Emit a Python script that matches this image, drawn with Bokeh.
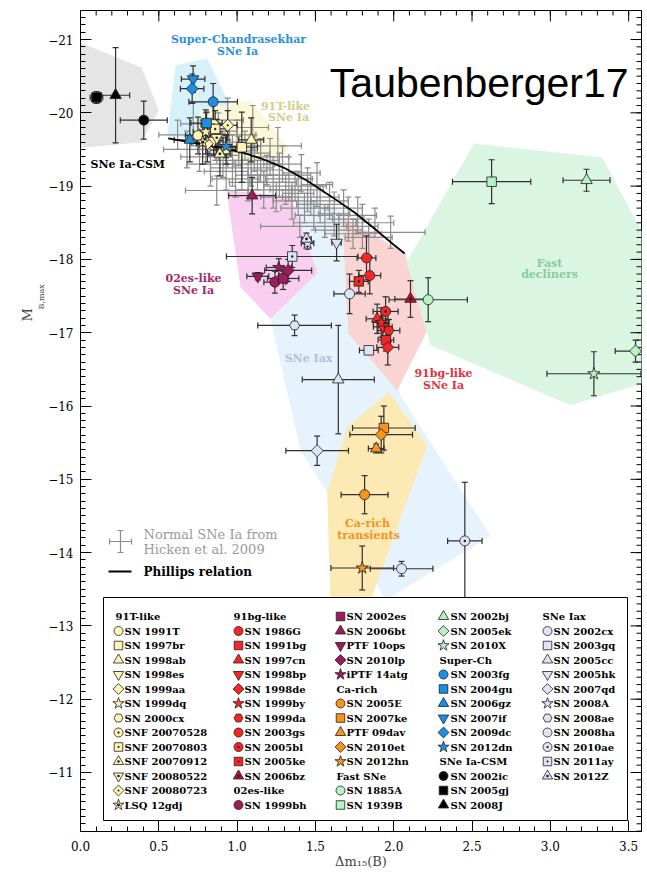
import numpy as np
from bokeh.plotting import figure
from bokeh.models import (Range1d, ColumnDataSource, Whisker, TeeHead, Label, FixedTicker, Title)
from bokeh.core.properties import value, field
from bokeh.embed import file_html
from bokeh.resources import INLINE

# ---------------- data ----------------
# Normal SNe Ia from Hicken et al. 2009
normal_dm15 = [0.62, 0.68, 0.72, 0.76, 0.80, 0.83, 0.86, 0.88, 0.91, 0.93,
               0.95, 0.97, 0.99, 1.01, 1.03, 1.05, 1.07, 1.09, 1.11, 1.13,
               1.15, 1.17, 1.19, 1.21, 1.23, 1.25, 1.27, 1.29, 1.31, 1.33,
               1.35, 1.37, 1.39, 1.41, 1.43, 1.45, 1.47, 1.49, 1.51, 1.53,
               1.56, 1.59, 1.62, 1.65, 1.68, 1.71, 1.74, 1.77, 1.80, 1.84,
               1.88, 1.98, 0.87, 1.40, 1.10, 1.26, 1.00, 0.94]
normal_mb = [-19.70, -19.50, -19.85, -19.40, -19.65, -19.30, -19.55, -19.75, -19.42, -19.20,
             -19.60, -19.35, -19.10, -19.48, -19.25, -19.55, -19.05, -19.30, -19.45, -19.15,
             -19.35, -18.95, -19.22, -19.40, -19.05, -18.85, -19.15, -19.30, -18.95, -19.10,
             -18.80, -19.00, -18.90, -19.18, -18.70, -18.95, -18.85, -18.60, -19.02, -18.75,
             -18.50, -18.80, -18.62, -18.40, -18.70, -18.55, -18.35, -18.60, -18.45, -18.30,
             -18.50, -18.37, -18.94, -18.45, -19.80, -19.55, -19.70, -19.90]
normal_xerr = [0.12, 0.15, 0.08, 0.12, 0.10, 0.15, 0.10, 0.12, 0.10, 0.14,
               0.18, 0.10, 0.15, 0.12, 0.20, 0.10, 0.12, 0.15, 0.10, 0.14,
               0.12, 0.18, 0.10, 0.12, 0.15, 0.10, 0.20, 0.12, 0.10, 0.15,
               0.12, 0.20, 0.10, 0.12, 0.15, 0.10, 0.18, 0.12, 0.10, 0.15,
               0.20, 0.12, 0.10, 0.15, 0.12, 0.10, 0.18, 0.12, 0.10, 0.15,
               0.12, 0.22, 0.20, 0.25, 0.10, 0.15, 0.12, 0.10]
normal_yerr = [0.20, 0.25, 0.30, 0.20, 0.35, 0.30, 0.20, 0.25, 0.30, 0.25,
               0.20, 0.35, 0.25, 0.20, 0.30, 0.20, 0.25, 0.30, 0.25, 0.20,
               0.30, 0.25, 0.20, 0.25, 0.35, 0.20, 0.30, 0.25, 0.20, 0.30,
               0.25, 0.20, 0.30, 0.25, 0.20, 0.30, 0.25, 0.20, 0.30, 0.25,
               0.20, 0.25, 0.30, 0.20, 0.25, 0.30, 0.20, 0.25, 0.30, 0.25,
               0.20, 0.22, 0.20, 0.15, 0.30, 0.25, 0.20, 0.30]

# Phillips relation
phillips_dm15 = [0.56, 0.75, 0.90, 1.03, 1.15, 1.30, 1.45, 1.60, 1.75, 1.90, 2.00, 2.07]
phillips_mb = [-19.65, -19.58, -19.52, -19.46, -19.38, -19.25, -19.07, -18.86, -18.64, -18.38, -18.20, -18.08]

# 91T-like
t91_names = ["SN 1991T", "SN 1997br", "SN 1998ab", "SN 1998es", "SN 1999aa", "SN 1999dq",
             "SN 2000cx", "SNF 20070528", "SNF 20070803", "SNF 20070912", "SNF 20080522",
             "SNF 20080723", "LSQ 12gdj"]
t91_dm15 = [0.75, 1.03, 1.09, 0.85, 0.81, 0.80, 0.93, 0.85, 0.86, 0.89, 0.87, 0.94, 0.78]
t91_mb = [-19.69, -19.53, -19.63, -19.62, -19.58, -19.74, -19.50, -19.84, -19.78, -19.44, -19.66, -19.83, -19.60]
t91_xerr = [0.08, 0.10, 0.08, 0.06, 0.07, 0.08, 0.06, 0.08, 0.07, 0.07, 0.06, 0.06, 0.07]
t91_yerr = [0.25, 0.48, 0.30, 0.20, 0.25, 0.30, 0.20, 0.35, 0.25, 0.30, 0.25, 0.20, 0.30]

# 91bg-like
bg_names = ["SN 1986G", "SN 1991bg", "SN 1997cn", "SN 1998bp", "SN 1998de", "SN 1999by",
            "SN 1999da", "SN 2003gs", "SN 2005bl", "SN 2005ke", "SN 2006bz"]
bg_dm15 = [1.826, 1.950, 1.894, 1.930, 1.962, 1.920, 1.969, 1.847, 1.948, 1.777, 2.107]
bg_mb = [-18.02, -16.90, -17.19, -17.08, -16.80, -17.14, -17.03, -17.78, -17.29, -17.70, -17.46]
bg_xerr = [0.06, 0.05, 0.07, 0.06, 0.07, 0.05, 0.07, 0.07, 0.08, 0.06, 0.10]
bg_yerr = [0.30, 0.15, 0.20, 0.15, 0.24, 0.20, 0.15, 0.25, 0.20, 0.15, 0.25]

# 02es-like
es_names = ["SN 1999bh", "SN 2002es", "SN 2006bt", "PTF 10ops", "SN 2010lp", "iPTF 14atg"]
es_dm15 = [1.241, 1.294, 1.096, 1.132, 1.326, 1.266]
es_mb = [-17.69, -17.74, -18.87, -17.77, -17.85, -17.89]
es_xerr = [0.07, 0.10, 0.15, 0.07, 0.15, 0.08]
es_yerr = [0.15, 0.15, 0.25, 0.05, 0.15, 0.12]

# Ca-rich transients
ca_names = ["SN 2005E", "SN 2007ke", "PTF 09dav", "SN 2010et", "SN 2012hn"]
ca_dm15 = [1.814, 1.937, 1.888, 1.920, 1.799]
ca_mb = [-14.79, -15.70, -15.42, -15.61, -13.79]
ca_xerr = [0.15, 0.20, 0.05, 0.20, 0.20]
ca_yerr = [0.26, 0.30, 0.06, 0.25, 0.30]

# Fast decliners
fast_names = ["SN 1885A", "SN 1939B", "SN 2002bj", "SN 2005ek", "SN 2010X"]
fast_dm15 = [2.22, 2.625, 3.231, 3.544, 3.278]
fast_mb = [-17.45, -19.06, -19.08, -16.75, -16.44]
fast_xerr = [0.25, 0.25, 0.15, 0.13, 0.30]
fast_yerr = [0.30, 0.30, 0.15, 0.15, 0.30]

# Super-Chandrasekhar
sch_names = ["SN 2003fg", "SN 2004gu", "SN 2006gz", "SN 2007if", "SN 2009dc", "SN 2012dn"]
sch_dm15 = [0.847, 0.805, 0.698, 0.719, 0.713, 0.930]
sch_mb = [-20.15, -19.86, -19.63, -20.46, -20.33, -19.54]
sch_xerr = [0.155, 0.10, 0.10, 0.075, 0.075, 0.07]
sch_yerr = [0.25, 0.15, 0.30, 0.18, 0.20, 0.15]

# SNe Ia-CSM
csm_names = ["SN 2002ic", "SN 2005gj", "SN 2008J"]
csm_dm15 = [0.404, 0.102, 0.224]
csm_mb = [-19.90, -20.21, -20.24]
csm_xerr = [0.15, 0.04, 0.09]
csm_yerr = [0.26, 0.08, 0.65]

# SNe Iax
iax_names = ["SN 2002cx", "SN 2003gq", "SN 2005cc", "SN 2005hk", "SN 2007qd", "SN 2008A",
             "SN 2008ae", "SN 2008ha", "SN 2010ae", "SN 2011ay", "SN 2012Z"]
iax_dm15 = [1.718, 1.841, 1.646, 1.635, 1.511, 1.450, 1.367, 2.050, 2.454, 1.352, 1.443]
iax_mb = [-17.53, -16.76, -16.36, -18.23, -15.39, -18.22, -17.10, -13.78, -14.16, -18.04, -18.28]
iax_xerr = [0.10, 0.06, 0.23, 0.03, 0.20, 0.04, 0.235, 0.20, 0.11, 0.42, 0.03]
iax_yerr = [0.27, 0.05, 0.74, 0.25, 0.20, 0.08, 0.14, 0.10, 0.80, 0.15, 0.08]

# shaded class regions (dm15, M_B vertices)
csm_reg_x = [-0.05, 0.39, 0.50, 0.39, -0.05]
csm_reg_y = [-21.00, -20.62, -20.03, -19.60, -19.51]
sch_reg_x = [0.607, 0.809, 1.064, 0.554]
sch_reg_y = [-20.65, -20.74, -19.62, -19.67]
t91_reg_x = [0.766, 1.086, 1.34, 1.086, 0.734]
t91_reg_y = [-20.03, -20.17, -19.49, -19.28, -19.55]
iax_reg_x = [1.379, 1.692, 2.043, 2.618, 1.948, 1.577, 1.405, 1.213]
iax_reg_y = [-18.87, -18.64, -16.14, -14.23, -13.35, -14.81, -15.39, -17.19]
es_reg_x = [0.932, 1.341, 1.513, 1.213, 1.022]
es_reg_y = [-18.94, -18.87, -17.81, -17.19, -17.62]
bg_reg_x = [1.671, 2.075, 2.214, 2.022, 1.711]
bg_reg_y = [-18.58, -18.08, -17.03, -16.21, -16.99]
fast_reg_x = [2.512, 3.331, 3.65, 3.65, 3.129, 2.235, 2.082]
fast_reg_y = [-19.58, -19.39, -18.12, -16.35, -16.01, -16.83, -17.96]
ca_reg_x = [1.969, 2.214, 1.852, 1.596, 1.575, 1.703]
ca_reg_y = [-16.19, -15.46, -13.35, -13.35, -14.81, -15.71]

x_ticks = [0.0, 0.5, 1.0, 1.5, 2.0, 2.5, 3.0, 3.5]
x_tick_labels = ["0.0", "0.5", "1.0", "1.5", "2.0", "2.5", "3.0", "3.5"]
y_ticks = [-21, -20, -19, -18, -17, -16, -15, -14, -13, -12, -11]
y_tick_labels = ["\u221221", "\u221220", "\u221219", "\u221218", "\u221217", "\u221216",
                 "\u221215", "\u221214", "\u221213", "\u221212", "\u221211"]
x_minor = [round(0.1 * i, 1) for i in range(0, 36)]
y_minor = [round(-21.3 + 0.1 * i, 1) for i in range(0, 112)]

# ---------------- styles ----------------
t91_markers = ["circle", "square", "triangle", "inverted_triangle", "diamond", "star", "hex",
               "circle_dot", "square_dot", "triangle_dot", "inverted_triangle_dot", "diamond_dot", "star_dot"]
bg_markers = ["circle", "square", "triangle", "inverted_triangle", "diamond", "star", "hex",
              "circle", "circle_dot", "square_dot", "triangle_dot"]
es_markers = ["circle", "square", "triangle", "inverted_triangle", "diamond", "star"]
ca_markers = ["circle", "square", "triangle", "diamond", "star"]
fast_markers = ["circle", "square", "triangle", "diamond", "star"]
sch_markers = ["circle", "square", "triangle", "inverted_triangle", "diamond", "star"]
csm_markers = ["circle", "square", "triangle"]
iax_markers = ["circle", "square", "triangle", "inverted_triangle", "diamond", "star", "hex",
               "circle", "circle_dot", "square_dot", "triangle_dot"]
fill_override = {"SN 2006bz": "#b8102c"}

groups = [
    ("91T-like", t91_names, t91_dm15, t91_mb, t91_xerr, t91_yerr, t91_markers, "#fff4b4"),
    ("91bg-like", bg_names, bg_dm15, bg_mb, bg_xerr, bg_yerr, bg_markers, "#f42626"),
    ("02es-like", es_names, es_dm15, es_mb, es_xerr, es_yerr, es_markers, "#a01a5e"),
    ("Ca-rich", ca_names, ca_dm15, ca_mb, ca_xerr, ca_yerr, ca_markers, "#f7931e"),
    ("Fast SNe", fast_names, fast_dm15, fast_mb, fast_xerr, fast_yerr, fast_markers, "#b7f2c4"),
    ("Super-Ch", sch_names, sch_dm15, sch_mb, sch_xerr, sch_yerr, sch_markers, "#1b8fe3"),
    ("SNe Ia-CSM", csm_names, csm_dm15, csm_mb, csm_xerr, csm_yerr, csm_markers, "#000000"),
    ("SNe Iax", iax_names, iax_dm15, iax_mb, iax_xerr, iax_yerr, iax_markers, "#dfe3f5"),
]

# marker name -> (bokeh marker, angle, relative size, needs extra dot)
MARKER_MAP = {
    "circle": ("circle", 0.0, 1.0, False),
    "square": ("square", 0.0, 0.95, False),
    "triangle": ("triangle", 0.0, 1.15, False),
    "inverted_triangle": ("inverted_triangle", 0.0, 1.15, False),
    "diamond": ("square", np.pi / 4, 0.85, False),
    "star": ("star", 0.0, 1.3, False),
    "hex": ("hex", 0.0, 1.0, False),
    "circle_dot": ("circle_dot", 0.0, 1.0, False),
    "square_dot": ("square_dot", 0.0, 0.95, False),
    "triangle_dot": ("triangle_dot", 0.0, 1.15, False),
    "inverted_triangle_dot": ("inverted_triangle", 0.0, 1.15, True),
    "diamond_dot": ("square_dot", np.pi / 4, 0.85, False),
    "star_dot": ("star_dot", 0.0, 1.3, False),
}

# ---------------- layout (page pixels) ----------------
W, H = 647, 874
FL, FR, FT, FB = 80, 641, 10, 831
X_LO, X_HI = 0.0, 3.582
Y_TOP, Y_BOT = -21.396, -10.195


def dx(px):
    return X_LO + (px - FL) * (X_HI - X_LO) / (FR - FL)


def dy(py):
    return Y_TOP + (py - FT) * (Y_BOT - Y_TOP) / (FB - FT)


p = figure(width=W, height=H, x_range=Range1d(X_LO, X_HI), y_range=Range1d(Y_BOT, Y_TOP),
           output_backend="svg", toolbar_location=None,
           min_border_left=FL, min_border_right=W - FR, min_border_top=FT,
           min_border_bottom=H - FB)
p.grid.visible = False
p.outline_line_color = "black"
p.outline_line_width = 1
p.background_fill_color = "white"
p.border_fill_color = "white"

SERIF = "DejaVu Serif"

for ax, ticks, minor, labels, standoff in ((p.xaxis[0], x_ticks, x_minor, x_tick_labels, 9),
                                           (p.yaxis[0], y_ticks, y_minor, y_tick_labels, 7)):
    ax.ticker = FixedTicker(ticks=ticks, minor_ticks=minor)
    ax.axis_line_color = "black"
    ax.major_tick_in = 11
    ax.major_tick_out = 0
    ax.minor_tick_in = 5
    ax.minor_tick_out = 0
    ax.major_tick_line_color = "black"
    ax.minor_tick_line_color = "black"
    ax.major_label_overrides = dict(zip(ticks, labels))
    ax.major_label_text_font = SERIF
    ax.major_label_text_font_size = "12px"
    ax.major_label_text_color = "black"
    ax.major_label_standoff = standoff

p.xaxis[0].axis_label = "\u0394m\u2081\u2085(B)"
p.xaxis[0].axis_label_text_font = SERIF
p.xaxis[0].axis_label_text_font_size = "13px"
p.xaxis[0].axis_label_text_font_style = "normal"
p.xaxis[0].axis_label_standoff = 0

# y axis title "M_B,max" as two side titles (subscript nearer to the axis)
p.add_layout(Title(text="B,max", align="left", offset=FB - 309, standoff=0,
                   text_font=SERIF, text_font_size="8px", text_font_style="normal"), "left")
p.add_layout(Title(text="M", align="left", offset=FB - 321, standoff=0,
                   text_font=SERIF, text_font_size="13px", text_font_style="normal"), "left")

# mirrored inward ticks on top and right edges
tick_x0, tick_y0, tick_x1, tick_y1 = [], [], [], []
for t, ln in [(t, 11) for t in x_ticks] + [(t, 5) for t in x_minor]:
    tick_x0.append(t); tick_x1.append(t)
    tick_y0.append(dy(FT)); tick_y1.append(dy(FT + ln))
for t, ln in [(t, 11) for t in y_ticks] + [(t, 5) for t in y_minor]:
    tick_y0.append(t); tick_y1.append(t)
    tick_x0.append(dx(FR)); tick_x1.append(dx(FR - ln))
p.segment(tick_x0, tick_y0, tick_x1, tick_y1, line_color="black", line_width=1)

# ---------------- regions ----------------
regions = [
    (iax_reg_x, iax_reg_y, "#e6f3fc"),
    (csm_reg_x, csm_reg_y, "#e5e5e5"),
    (sch_reg_x, sch_reg_y, "#d7f1fb"),
    (t91_reg_x, t91_reg_y, "#fbf8d9"),
    (es_reg_x, es_reg_y, "#f8cff0"),
    (bg_reg_x, bg_reg_y, "#fad3d3"),
    (fast_reg_x, fast_reg_y, "#daf6e3"),
    (ca_reg_x, ca_reg_y, "#fde9b3"),
]
for rx, ry, col in regions:
    p.patch(rx, ry, fill_color=col, line_color=None, level="image")


# ---------------- error bars ----------------
def errorbars(xs, ys, xe, ye, color, width, cap):
    x = np.array(xs, dtype=float)
    y = np.array(ys, dtype=float)
    xe = np.array(xe, dtype=float)
    ye = np.array(ye, dtype=float)
    src = ColumnDataSource(dict(x=x, y=y, xlo=x - xe, xhi=x + xe, ylo=y - ye, yhi=y + ye))
    for base, lo, hi, dim in (("y", "xlo", "xhi", "width"), ("x", "ylo", "yhi", "height")):
        p.add_layout(Whisker(source=src, base=base, lower=lo, upper=hi, dimension=dim,
                             line_color=color, line_width=width,
                             upper_head=TeeHead(size=cap, line_color=color, line_width=width),
                             lower_head=TeeHead(size=cap, line_color=color, line_width=width)))


errorbars(normal_dm15, normal_mb, normal_xerr, normal_yerr, "#8c8c8c", 1.2, 6)
for g in groups:
    errorbars(g[2], g[3], g[4], g[5], "#2f2f2f", 1.2, 6)

p.line(phillips_dm15, phillips_mb, line_color="black", line_width=1.8)


def draw_markers(xs, ys, markers, fills, base_size):
    bm, ang, sz, dx_, dy_ = [], [], [], [], []
    for x, y, m in zip(xs, ys, markers):
        name, a, rel, extra = MARKER_MAP[m]
        bm.append(name); ang.append(a); sz.append(base_size * rel)
        if extra:
            dx_.append(x); dy_.append(y)
    src = ColumnDataSource(dict(x=list(xs), y=list(ys), marker=bm, angle=ang, size=sz, fill=list(fills)))
    p.scatter("x", "y", source=src, marker=field("marker"), angle=field("angle"), size=field("size"),
              fill_color=field("fill"), line_color="#1e1e1e", line_width=0.8)
    if dx_:
        p.scatter(dx_, dy_, marker="circle", size=2.6, fill_color="#1e1e1e", line_color=None)


# ---------------- markers ----------------
for title, names, xs, ys, xe, ye, markers, col in groups:
    draw_markers(xs, ys, markers, [fill_override.get(n, col) for n in names], 10)

# ---------------- region labels ----------------
region_labels = [
    ("Super-Chandrasekhar", 238, 39, "#2a8fdc"), ("SNe Ia", 237, 51, "#2a8fdc"),
    ("91T-like", 285, 106, "#d5cc86"), ("SNe Ia", 288, 117, "#d5cc86"),
    ("02es-like", 193, 278, "#a3286a"), ("SNe Ia", 193, 290, "#a3286a"),
    ("SNe Iax", 308, 358, "#b3bfe0"),
    ("91bg-like", 443, 373, "#e8303a"), ("SNe Ia", 443, 385, "#e8303a"),
    ("Fast", 549, 263, "#86cc9a"), ("decliners", 549, 274, "#86cc9a"),
    ("Ca-rich", 367, 523, "#f29422"), ("transients", 368, 535, "#f29422"),
]
for txt, px, py, col in region_labels:
    p.add_layout(Label(x=dx(px), y=dy(py), text=txt, text_align="center", text_baseline="middle",
                       text_font=SERIF, text_font_style="bold", text_font_size="11px", text_color=col))
p.add_layout(Label(x=dx(90), y=dy(164), text="SNe Ia-CSM", text_align="left", text_baseline="middle",
                   text_font=SERIF, text_font_style="bold", text_font_size="11px", text_color="black"))

# inner legend: normal SNe + Phillips
cx, cy, hw = 120, 541, 11
p.segment(x0=[dx(cx - hw), dx(cx)], y0=[dy(cy), dy(cy - hw)], x1=[dx(cx + hw), dx(cx)], y1=[dy(cy), dy(cy + hw)],
          line_color="#8c8c8c", line_width=1.2)
p.segment(x0=[dx(cx - hw), dx(cx + hw), dx(cx - 3), dx(cx - 3)],
          y0=[dy(cy - 3), dy(cy - 3), dy(cy - hw), dy(cy + hw)],
          x1=[dx(cx - hw), dx(cx + hw), dx(cx + 3), dx(cx + 3)],
          y1=[dy(cy + 3), dy(cy + 3), dy(cy - hw), dy(cy + hw)],
          line_color="#8c8c8c", line_width=1.2)
p.text(x=[dx(143), dx(143)], y=[dy(534), dy(549)], text=["Normal SNe Ia from", "Hicken et al. 2009"],
       text_font=value(SERIF), text_font_size="13px", text_color="#9a9a9a", text_baseline="middle")
p.line([dx(108), dx(131)], [dy(571), dy(571)], line_color="black", line_width=1.8)
p.text(x=[dx(143)], y=[dy(571)], text=["Phillips relation"], text_font=value(SERIF),
       text_font_style="bold", text_font_size="12px", text_color="black", text_baseline="middle")

# ---------------- big legend box ----------------
p.quad(left=[dx(103)], right=[dx(627)], top=[dy(597)], bottom=[dy(820)],
       fill_color="white", line_color="black", line_width=1)

col_marker_x = [118, 238, 340, 443, 547]
col_text_x = [124, 244, 346, 450, 553]
col_head_x = [115, 233, 336, 439, 542]
ROW0, ROWSTEP, NROWS = 616, 14.5, 14

items = []
for title, names, xs, ys, xe, ye, markers, col in groups:
    items.append((title, None, None))
    for n, m in zip(names, markers):
        items.append((n, m, fill_override.get(n, col)))

mx, my, mm, mf = [], [], [], []
tx, ty, tt = [], [], []
for i, (label, marker, fill) in enumerate(items):
    c, r = divmod(i, NROWS)
    ypx = ROW0 + r * ROWSTEP
    if marker is None:
        tx.append(dx(col_head_x[c]))
    else:
        tx.append(dx(col_text_x[c]))
        mx.append(dx(col_marker_x[c]))
        my.append(dy(ypx))
        mm.append(marker)
        mf.append(fill)
    ty.append(dy(ypx))
    tt.append(label)

draw_markers(mx, my, mm, mf, 9)
p.text(x=tx, y=ty, text=tt, text_font=value(SERIF), text_font_style="bold", text_font_size="10px",
       text_color="black", text_baseline="middle", text_align="left")

p.add_layout(Label(x=dx(628), y=dy(82), text="Taubenberger17", text_align="right",
                   text_baseline="alphabetic", text_font="Liberation Sans", text_font_size="41px",
                   text_color="black"))

open("out.html", "w").write(file_html(p, INLINE))
